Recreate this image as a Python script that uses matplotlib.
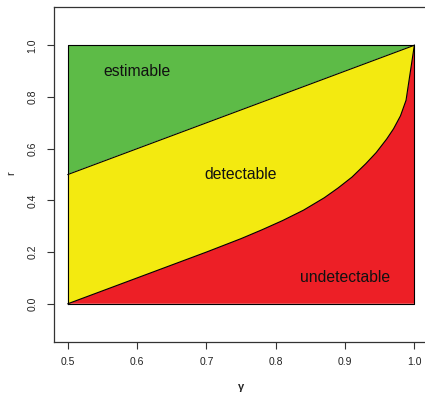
import matplotlib
matplotlib.use("Agg")
import matplotlib.pyplot as plt
import numpy as np

plt.rcParams['font.family'] = ['Liberation Sans', 'DejaVu Sans']

# boundary between detectable and undetectable regions
gamma_curve = [0.5, 0.6, 0.7, 0.75, 0.78, 0.81, 0.84, 0.87, 0.89, 0.91,
               0.93, 0.945, 0.96, 0.97, 0.98, 0.988, 1.0]
r_curve = [0.0, 0.1, 0.2, 0.252, 0.286, 0.322, 0.362, 0.41, 0.448, 0.49,
           0.542, 0.585, 0.637, 0.677, 0.727, 0.787, 1.0]

# boundary between estimable and detectable regions
gamma_line = [0.5, 1.0]
r_line = [0.5, 1.0]

region_labels = ["estimable", "detectable", "undetectable"]
label_gamma = [0.6, 0.75, 0.9]
label_r = [0.9, 0.5, 0.1]

x_ticks = [0.5, 0.6, 0.7, 0.8, 0.9, 1.0]
y_ticks = [0.0, 0.2, 0.4, 0.6, 0.8, 1.0]

green = "#5dbb47"
yellow = "#f3ea10"
red = "#ed1f26"

fig = plt.figure(figsize=(4.25, 3.94), dpi=100)
ax = fig.add_axes([54 / 425, 52 / 394, (428.2 - 54) / 425, (342 - 7) / 394])

gc = np.array(gamma_curve)
rc = np.array(r_curve)
x0, x1 = gamma_line
y0, y1 = r_line

# estimable (above the straight line)
ax.fill([x0, x0, x1, x1], [y0, 1.0, 1.0, y1], facecolor=green,
        edgecolor="none")
# detectable (between the line and the curve)
ax.fill(np.concatenate([gc, [x0]]), np.concatenate([rc, [y0]]),
        facecolor=yellow, edgecolor="none")
# undetectable (below the curve)
ax.fill(np.concatenate([gc, [1.0]]), np.concatenate([rc, [0.0]]),
        facecolor=red, edgecolor="none")
ax.plot([x0, x1], [y0, y1], color="black", linewidth=0.8)
ax.plot(gc, rc, color="black", linewidth=0.8)
ax.plot([0.5, 1.0, 1.0, 0.5, 0.5], [0.0, 0.0, 1.0, 1.0, 0.0],
        color="black", linewidth=0.8)

for txt, gx, ry in zip(region_labels, label_gamma, label_r):
    ax.text(gx, ry, txt, ha="center", va="center", fontsize=11.3,
            color="#111111")

ax.set_xlim(0.48, 1.02)
ax.set_ylim(-0.148, 1.148)

for s in ax.spines.values():
    s.set_color("#333333")
    s.set_linewidth(0.9)

ax.set_xticks(x_ticks)
ax.set_xticklabels([f"{v:.1f}" for v in x_ticks])
ax.set_yticks(y_ticks)
ax.set_yticklabels([f"{v:.1f}" for v in y_ticks], rotation=90, va="center")
ax.tick_params(axis="both", length=5, width=0.8, color="#333333",
               labelsize=7.5, labelcolor="#222222")
ax.tick_params(axis="x", pad=6)
ax.tick_params(axis="y", pad=7)

fig.text(241 / 425, 1 - 387 / 394, "γ", ha="center", va="center",
         fontsize=8, fontweight="bold", color="#222222")
fig.text(11 / 425, 1 - 173 / 394, "r", ha="center", va="center",
         fontsize=8, rotation=90, color="#222222")

fig.savefig("out.png", dpi=100)
